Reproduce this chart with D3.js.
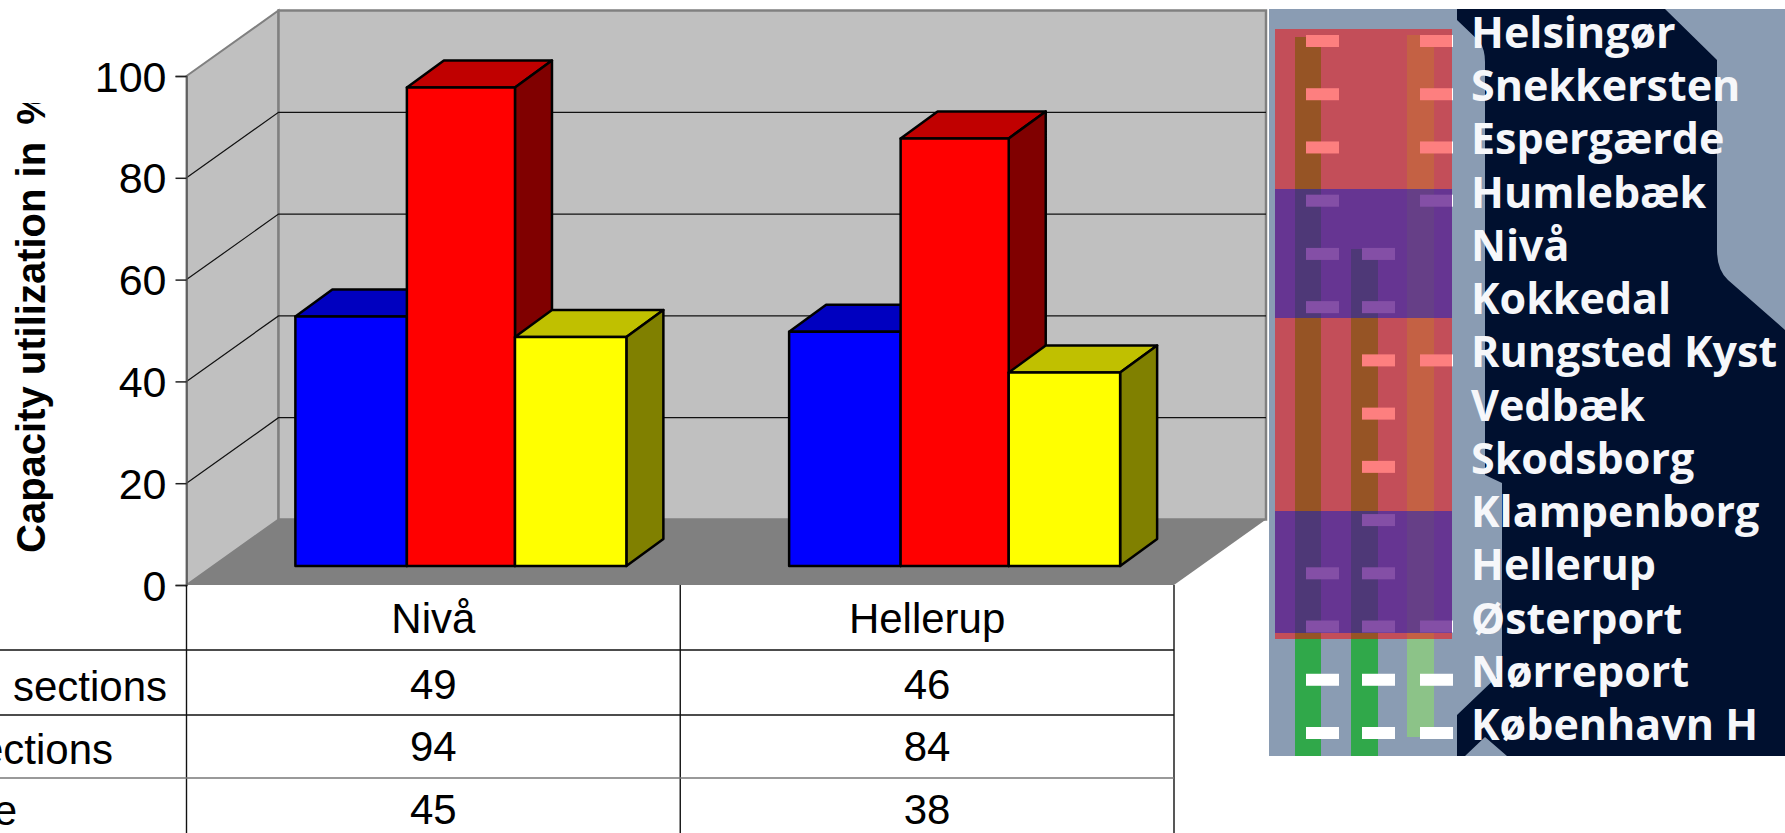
<!DOCTYPE html>
<html><head><meta charset="utf-8">
<script src="https://cdnjs.cloudflare.com/ajax/libs/d3/7.8.5/d3.min.js"></script>
<style>html,body{margin:0;padding:0;background:#fff;overflow:hidden}svg{display:block}</style>
</head><body><svg id="c" width="1785" height="833"></svg>
<script>
const categories = ["Nivå", "Hellerup"];
const seriesNames = ["sections", "sections", "e"];
const seriesValues = [[49, 46], [94, 84], [45, 38]];
const seriesFront = ["#0000ff", "#ff0000", "#ffff00"];
const seriesTop = ["#0000c0", "#c00000", "#c0c000"];
const seriesSide = ["#000080", "#800000", "#808000"];
const yTicks = [0, 20, 40, 60, 80, 100];
const axisTitle = "Capacity utilization in";
const axisUnit = "%";
const stations = ["Helsingør","Snekkersten","Espergærde","Humlebæk","Nivå","Kokkedal","Rungsted Kyst","Vedbæk","Skodsborg","Klampenborg","Hellerup","Østerport","Nørreport","København H"];
const track1Stops = ["Helsingør","Snekkersten","Espergærde","Humlebæk","Nivå","Kokkedal","Hellerup","Østerport","Nørreport","København H"];
const track2Stops = ["Nivå","Kokkedal","Rungsted Kyst","Vedbæk","Skodsborg","Klampenborg","Hellerup","Østerport","Nørreport","København H"];
const track3Stops = ["Helsingør","Snekkersten","Espergærde","Humlebæk","Rungsted Kyst","Østerport","Nørreport","København H"];

const svg = d3.select("#c");
const FONT = "'Liberation Sans', Arial, sans-serif";
const x0 = 186.5, x1 = 1174, yBase = 585, yTop = 76;
const dx = 92, dy = -65.5;
const y = d3.scaleLinear().domain([0, 100]).range([yBase, yTop]);
const xCat = d3.scaleBand().domain(categories).range([x0, x1]);
const xEdge = d3.scaleLinear().domain([0, 1, 2, 3]).range([0, 111.5, 219.6, 331]);
const barStart = xCat.bandwidth()/2 - 166;
const barShift = [28, -19], barDepth = [37, -27];
const pts = a => a.map(p => p.join(",")).join(" ");

// walls and floor
const wall = svg.append("g");
wall.append("polygon").attr("points", pts([[x0, y(100)],[x0+dx, y(100)+dy],[x0+dx, y(0)+dy],[x0, y(0)]]))
  .attr("fill", "#c0c0c0").attr("stroke", "#808080").attr("stroke-width", 2);
wall.append("rect").attr("x", x0+dx).attr("y", y(100)+dy).attr("width", x1-x0).attr("height", y(0)-y(100))
  .attr("fill", "#c0c0c0").attr("stroke", "#808080").attr("stroke-width", 2.5);
wall.append("polygon").attr("points", pts([[x0, y(0)],[x0+dx, y(0)+dy],[x1+dx, y(0)+dy],[x1, y(0)]])).attr("fill", "#808080");
yTicks.filter(t => t > 0 && t < 100).forEach(t => {
  wall.append("polyline").attr("points", pts([[x0, y(t)],[x0+dx, y(t)+dy],[x1+dx, y(t)+dy]]))
    .attr("fill", "none").attr("stroke", "#111").attr("stroke-width", 1.2);
});

// bars
categories.forEach((c, ci) => {
  seriesValues.forEach((vals, si) => {
    const g = svg.append("g").attr("stroke", "#000").attr("stroke-width", 2.5).attr("stroke-linejoin", "round");
    const base = xCat(c) + barStart + barShift[0];
    const l = base + xEdge(si), r = base + xEdge(si + 1);
    const t = y(vals[ci]) + barShift[1], b = y(0) + barShift[1];
    const [ddx, ddy] = barDepth;
    g.append("polygon").attr("points", pts([[l,t],[l+ddx,t+ddy],[r+ddx,t+ddy],[r,t]])).attr("fill", seriesTop[si]);
    g.append("polygon").attr("points", pts([[r,t],[r+ddx,t+ddy],[r+ddx,b+ddy],[r,b]])).attr("fill", seriesSide[si]);
    g.append("rect").attr("x", l).attr("y", t).attr("width", r-l).attr("height", b-t).attr("fill", seriesFront[si]);
  });
});

// y axis
const axis = svg.append("g").attr("transform", `translate(${x0},0)`)
  .call(d3.axisLeft(y).tickValues(yTicks).tickSize(11).tickPadding(9));
axis.select(".domain").attr("stroke", "#555").attr("stroke-width", 1.5);
axis.selectAll("line").attr("stroke", "#222").attr("stroke-width", 1.5);
axis.selectAll("text").attr("font-family", FONT).attr("font-size", 43).attr("fill", "#000").attr("dy", "0.35em");

// axis title
svg.append("clipPath").attr("id", "tc").append("rect").attr("x", 0).attr("y", 103).attr("width", 100).attr("height", 500);
const title = svg.append("g").attr("clip-path", "url(#tc)").append("text")
  .attr("transform", "translate(45,553) rotate(-90)")
  .attr("font-family", FONT).attr("font-size", 40).attr("font-weight", "bold").attr("fill", "#000");
title.append("tspan").text(axisTitle);
title.append("tspan").attr("dx", 17).text(axisUnit);

// data table
const rowY = [585, 650, 715, 778];
const tbl = svg.append("g").attr("stroke", "#111").attr("stroke-width", 1.4);
[x0, x0 + xCat.step(), x1].forEach(v => tbl.append("line").attr("x1", v).attr("x2", v).attr("y1", 585).attr("y2", 833));
rowY.slice(1).forEach((ry, i) => tbl.append("line").attr("x1", 0).attr("x2", x1).attr("y1", ry).attr("y2", ry)
  .attr("stroke", i === 2 ? "#777" : "#111"));
const tx = svg.append("g").attr("font-family", FONT).attr("font-size", 42).attr("fill", "#000").attr("text-anchor", "middle");
categories.forEach((c, ci) => {
  const cx = xCat(c) + xCat.bandwidth()/2;
  tx.append("text").attr("x", cx).attr("y", 633).text(c);
  seriesValues.forEach((v, si) => tx.append("text").attr("x", cx).attr("y", [699, 761, 824][si]).text(v[ci]));
});
const labEnd = [167, 113, 17];
seriesNames.forEach((s, si) => tx.append("text").attr("x", labEnd[si]).attr("y", [701, 764, 825][si]).attr("text-anchor", "end").text(s));

// station panel
const px = 1269, pt = 9, pb = 756;
const panel = svg.append("g");
panel.append("rect").attr("x", px).attr("y", pt).attr("width", 1785-px).attr("height", pb-pt).attr("fill", "#8a9cb3");
const rowScale = d3.scalePoint().domain(stations).range([41, 733]);
[[1295, 26, 37, pb, "#30a84a"], [1351, 27, 249, pb, "#30a84a"], [1407, 27, 35, 737, "#8cc388"]].forEach(t =>
  panel.append("rect").attr("x", t[0]).attr("width", t[1]).attr("y", t[2]).attr("height", t[3]-t[2]).attr("fill", t[4]));
[[1306, track1Stops], [1362, track2Stops], [1420, track3Stops]].forEach(([dxs, stops]) =>
  stops.forEach(s => panel.append("rect").attr("x", dxs).attr("width", 33).attr("y", rowScale(s)-6).attr("height", 12).attr("fill", "#fff")));
panel.append("rect").attr("x", 1275).attr("y", 29).attr("width", 177).attr("height", 610).attr("fill", "#fc0000").attr("fill-opacity", 0.5);
[[189, 318], [511, 633]].forEach(b => panel.append("rect").attr("x", 1275).attr("width", 177).attr("y", b[0]).attr("height", b[1]-b[0])
  .attr("fill", "#001bd0").attr("fill-opacity", 0.48));
const shape = d3.path();
shape.moveTo(1457, pt); shape.lineTo(1457, 20); shape.lineTo(1480, 42); shape.quadraticCurveTo(1485, 50, 1485, 62);
shape.lineTo(1485, 475); shape.lineTo(1502, 483); shape.lineTo(1502, 672); shape.lineTo(1457, 715); shape.lineTo(1457, pb);
shape.lineTo(1465, pb); shape.lineTo(1485, 737); shape.lineTo(1507, pb); shape.lineTo(1785, pb); shape.lineTo(1785, 330);
shape.lineTo(1728, 280); shape.quadraticCurveTo(1717, 270, 1717, 250); shape.lineTo(1717, 60); shape.lineTo(1665, pt); shape.closePath();
panel.append("path").attr("d", shape.toString()).attr("fill", "#00102f");
panel.selectAll("text.st").data(stations).join("text").attr("class", "st")
  .attr("x", 1471).attr("y", d => rowScale(d) + 7)
  .attr("font-family", "'Open Sans', sans-serif").attr("font-size", 43).attr("font-weight", 700).attr("fill", "#f6f7fa")
  .text(d => d);
</script></body></html>
